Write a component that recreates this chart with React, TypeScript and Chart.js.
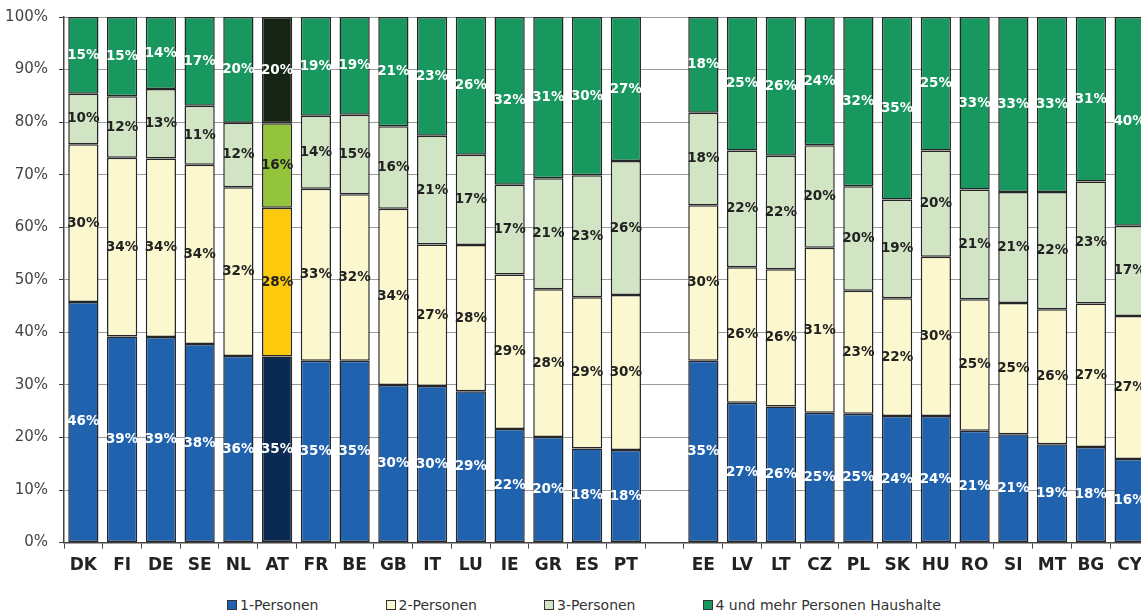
import React, { useEffect, useRef } from 'react';
import { Chart, registerables } from 'chart.js';

Chart.register(...registerables);

const categories = ['DK', 'FI', 'DE', 'SE', 'NL', 'AT', 'FR', 'BE', 'GB', 'IT', 'LU', 'IE', 'GR', 'ES', 'PT', '', 'EE', 'LV', 'LT', 'CZ', 'PL', 'SK', 'HU', 'RO', 'SI', 'MT', 'BG', 'CY'];
const highlightCategory = 'AT';

const seriesNames = ['1-Personen', '2-Personen', '3-Personen', '4 und mehr Personen Haushalte'];

const onePerson = [45.8, 39.2, 39.1, 37.8, 35.5, 35.4, 34.6, 34.6, 30.0, 29.8, 28.8, 21.6, 20.1, 17.9, 17.6, null, 34.6, 26.6, 25.9, 24.7, 24.5, 24.1, 24.1, 21.3, 20.6, 18.7, 18.2, 15.9];
const twoPersons = [30.0, 34.0, 34.0, 34.1, 32.1, 28.3, 32.7, 31.7, 33.5, 26.9, 27.8, 29.4, 28.1, 28.8, 29.5, null, 29.6, 25.8, 26.1, 31.4, 23.4, 22.4, 30.3, 25.0, 25.0, 25.7, 27.3, 27.2];
const threePersons = [9.6, 11.7, 13.2, 11.2, 12.3, 16.1, 13.9, 15.1, 15.7, 20.7, 17.2, 17.1, 21.1, 23.2, 25.5, null, 17.6, 22.2, 21.6, 19.5, 19.9, 18.8, 20.2, 20.9, 21.1, 22.3, 23.2, 17.2];
const fourPlus = [14.6, 15.1, 13.7, 16.9, 20.1, 20.2, 18.8, 18.6, 20.8, 22.6, 26.2, 31.9, 30.7, 30.1, 27.4, null, 18.2, 25.4, 26.4, 24.4, 32.2, 34.7, 25.4, 32.8, 33.3, 33.3, 31.3, 39.7];

const yTicks = [0, 10, 20, 30, 40, 50, 60, 70, 80, 90, 100];

const baseColors = ['#2162AE', '#FBF8D0', '#D1E5C5', '#18975F'];
const highlightColors = ['#0B2A52', '#FDC90C', '#93C43C', '#152415'];
const labelColors = ['#ffffff', '#222222', '#222222', '#ffffff'];

const FONT = '"DejaVu Sans", sans-serif';

const segLabels = {
  id: 'segLabels',
  afterDatasetsDraw(chart: any) {
    const ctx = chart.ctx;
    ctx.save();
    ctx.font = `bold 13.5px ${FONT}`;
    ctx.textAlign = 'center';
    ctx.textBaseline = 'middle';
    chart.data.datasets.forEach((ds: any, di: number) => {
      const meta = chart.getDatasetMeta(di);
      meta.data.forEach((el: any, i: number) => {
        const v = ds.data[i];
        if (v == null) return;
        const p = el.getProps(['x', 'y', 'base'], true);
        ctx.fillStyle = labelColors[di];
        ctx.fillText(Math.round(v) + '%', p.x, (p.y + p.base) / 2);
      });
    });
    ctx.restore();
  },
};

export default function App() {
  const ref = useRef<HTMLCanvasElement | null>(null);

  useEffect(() => {
    if (!ref.current) return;
    const series = [onePerson, twoPersons, threePersons, fourPlus];
    const chart = new Chart(ref.current, {
      type: 'bar',
      data: {
        labels: categories,
        datasets: series.map((data, si) => ({
          label: seriesNames[si],
          data,
          backgroundColor: categories.map((c) => (c === highlightCategory ? highlightColors[si] : baseColors[si])),
          borderColor: '#262626',
          borderWidth: 1.5,
          borderSkipped: false,
          barPercentage: 0.78,
          categoryPercentage: 1,
        })),
      },
      options: {
        responsive: false,
        animation: false,
        layout: { padding: { top: 17, right: 0, bottom: 4, left: 0 } },
        plugins: {
          legend: { display: false },
          tooltip: { enabled: false },
          title: { display: false },
        },
        scales: {
          x: {
            stacked: true,
            grid: { display: true, drawOnChartArea: false, drawTicks: true, tickLength: 6, color: '#444', tickColor: '#444', lineWidth: 1 },
            border: { display: true, color: '#444', width: 1.5 },
            ticks: { font: { family: FONT, size: 17, weight: 'bold' }, color: '#222', padding: 7, autoSkip: false, maxRotation: 0 },
          },
          y: {
            stacked: true,
            min: 0,
            max: 100,
            afterFit: (s: any) => { s.width = 64; s.paddingTop = 0; s.paddingBottom = 0; },
            afterBuildTicks: (s: any) => { s.ticks = yTicks.map((v) => ({ value: v })); },
            ticks: { stepSize: 10, callback: (v: any) => v + '%', font: { family: FONT, size: 15 }, color: '#444', padding: 11 },
            grid: { color: '#9a9a9a', lineWidth: 1, tickLength: 5, tickColor: '#444', drawTicks: true },
            border: { display: true, color: '#444', width: 1.5 },
          },
        },
      },
      plugins: [segLabels],
    } as any);
    return () => chart.destroy();
  }, []);

  return (
    <div style={{ position: 'absolute', left: 0, top: 0, width: 1141, height: 614, overflow: 'hidden', background: '#fff' }}>
      <canvas ref={ref} width={1149} height={587} style={{ display: 'block', width: 1149, height: 587 }} />
      <div
        style={{
          position: 'absolute',
          top: 597,
          left: 0,
          width: 1168,
          display: 'flex',
          justifyContent: 'center',
          gap: 67,
          fontFamily: FONT,
          fontSize: 14,
          lineHeight: '16px',
          color: '#333',
        }}
      >
        {seriesNames.map((n, i) => (
          <div key={n} style={{ display: 'flex', alignItems: 'center', whiteSpace: 'nowrap' }}>
            <span style={{ display: 'inline-block', width: 10, height: 10, boxSizing: 'border-box', border: '1px solid #333', background: baseColors[i], marginRight: 3 }} />
            <span>{n}</span>
          </div>
        ))}
      </div>
    </div>
  );
}
